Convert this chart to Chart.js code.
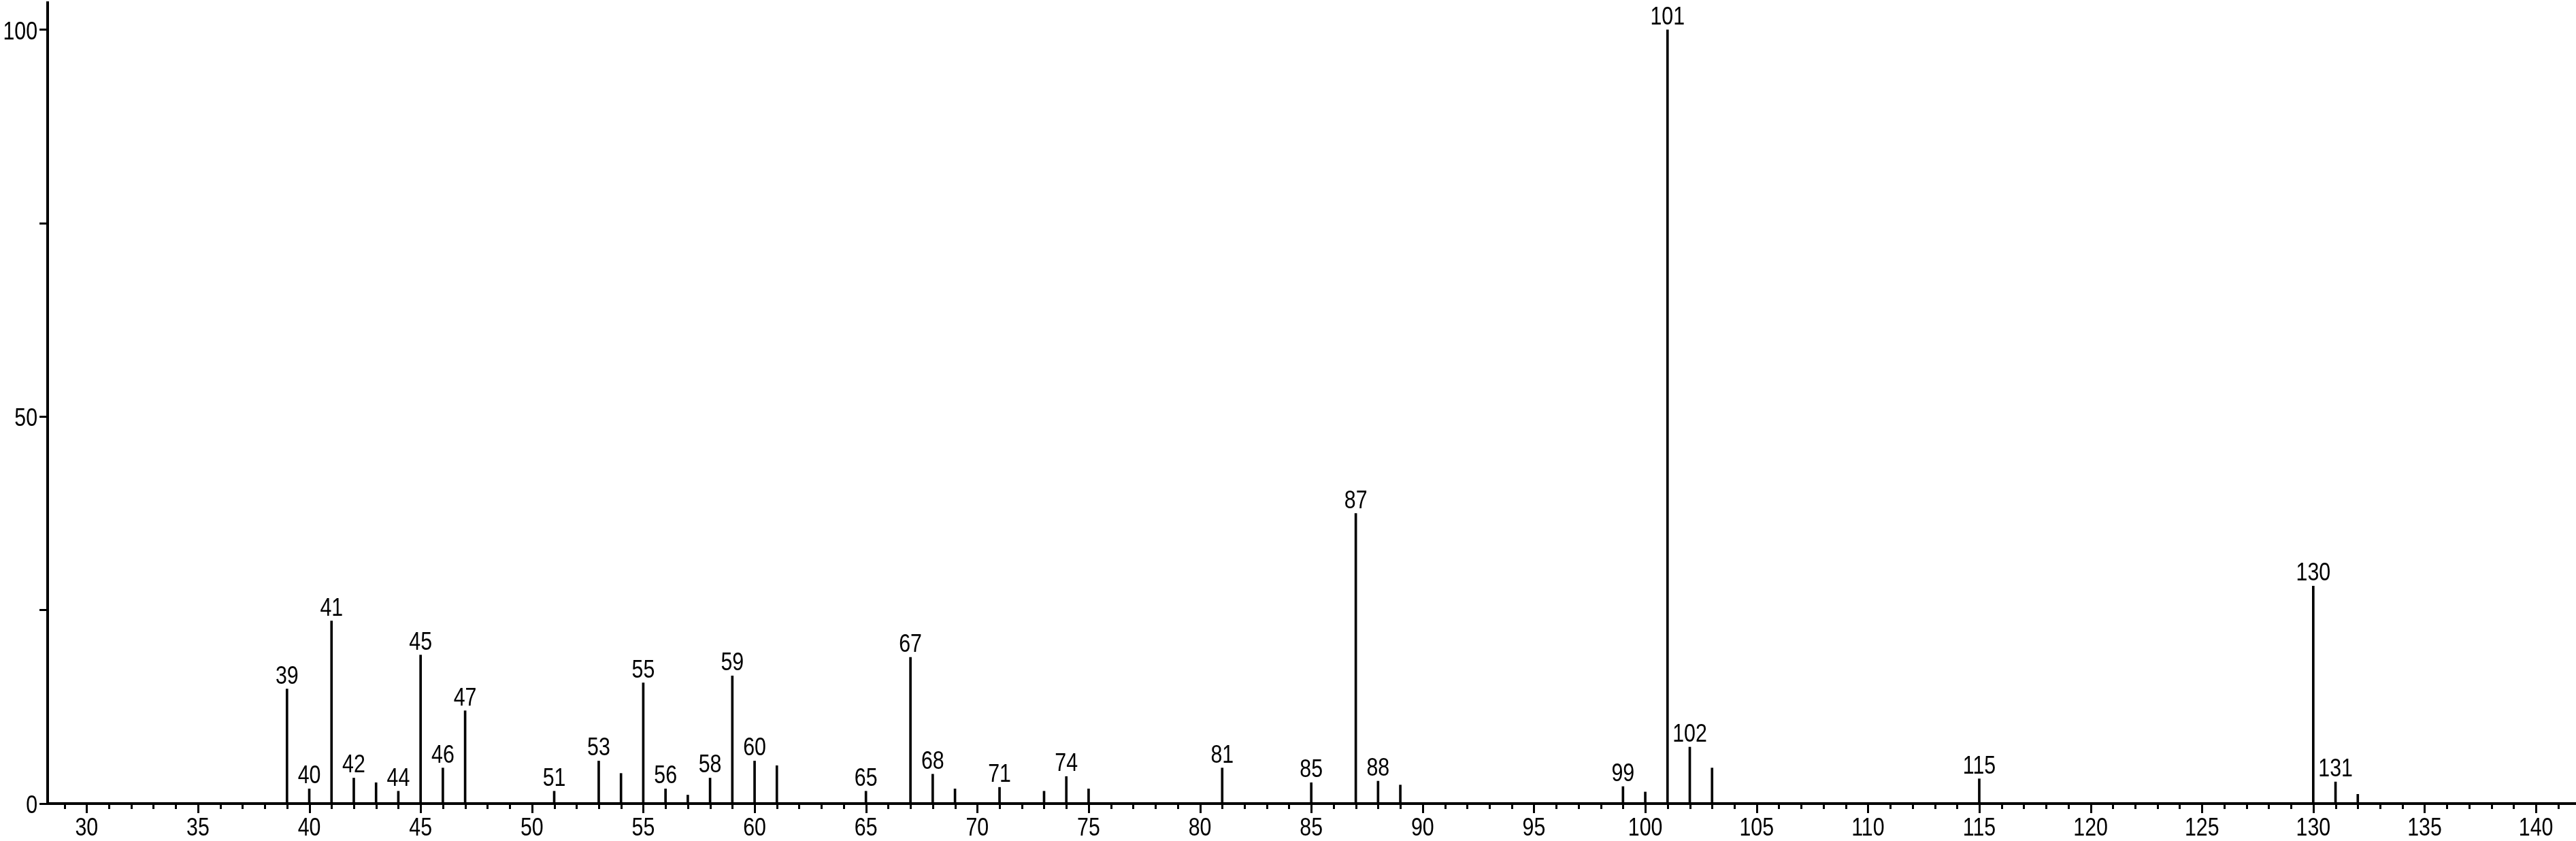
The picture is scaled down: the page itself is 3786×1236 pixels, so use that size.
<!DOCTYPE html>
<html>
<head>
<meta charset="utf-8">
<title>Mass spectrum</title>
<script src="https://cdn.jsdelivr.net/npm/chart.js@4/dist/chart.umd.min.js"></script>
<style>
  html, body { margin: 0; padding: 0; background: #fff; }
  #wrap { width: 3786px; height: 1236px; }
</style>
</head>
<body>
<div id="wrap"><canvas id="spectrum" width="3786" height="1236"></canvas></div>
<script>
// m/z values and relative intensities
const mzValues = [39, 40, 41, 42, 43, 44, 45, 46, 47, 51, 53, 54, 55, 56, 57, 58, 59, 60, 61,
                  65, 67, 68, 69, 71, 73, 74, 75, 81, 85, 87, 88, 89, 99, 100, 101, 102, 103,
                  115, 130, 131, 132];
const intensities = [14.8, 1.9, 23.6, 3.3, 2.7, 1.6, 19.2, 4.6, 12.0, 1.6, 5.5, 3.9, 15.6, 1.9, 1.1, 3.3, 16.5, 5.5, 4.9,
                     1.6, 18.9, 3.8, 1.9, 2.1, 1.6, 3.5, 1.9, 4.6, 2.7, 37.5, 2.9, 2.4, 2.2, 1.5, 100, 7.3, 4.6,
                     3.2, 28.1, 2.8, 1.2];
// peaks that carry a label above them
const labeledPeaks = [39, 40, 41, 42, 44, 45, 46, 47, 51, 53, 55, 56, 58, 59, 60, 65, 67, 68, 71, 74,
                      81, 85, 87, 88, 99, 101, 102, 115, 130, 131];
// axis ticks
const yTickLabels = [0, 50, 100];
const X_MIN = 28.25, X_MAX = 141.8;
const Y_MAX = 103.5;

// narrow Helvetica look: Liberation Sans squeezed horizontally
const FONT = '"Liberation Sans", Arial, sans-serif';
const FONT_SIZE = 37;
const SQUEEZE = 0.82;

function drawNarrowText(ctx, text, x, y, align) {
    ctx.save();
    ctx.translate(x, y);
    ctx.scale(SQUEEZE, 1);
    ctx.textAlign = align;
    ctx.textBaseline = 'alphabetic';
    ctx.fillText(text, 0, 0);
    ctx.restore();
}

// Minor (every 1) and major (every 5) x ticks, plus all axis labels
const axisPlugin = {
    id: 'axisMarks',
    afterDraw(chart) {
        const ctx = chart.ctx;
        const xs = chart.scales.x;
        const ys = chart.scales.y;
        const y0 = chart.chartArea.bottom;
        ctx.save();
        ctx.strokeStyle = '#000';
        ctx.lineWidth = 3;
        for (let v = Math.ceil(X_MIN); v <= Math.floor(X_MAX); v++) {
            const px = Math.round(xs.getPixelForValue(v)) + 0.5;
            const len = v % 5 === 0 ? 14 : 8;
            ctx.beginPath();
            ctx.moveTo(px, y0);
            ctx.lineTo(px, y0 + len);
            ctx.stroke();
        }
        ctx.fillStyle = '#000';
        ctx.font = `${FONT_SIZE}px ${FONT}`;
        xs.ticks.forEach((t) => {
            if (t.value % 5 !== 0) return;
            drawNarrowText(ctx, String(t.value), xs.getPixelForValue(t.value), y0 + 47, 'center');
        });
        ys.ticks.forEach((t) => {
            if (!yTickLabels.includes(t.value)) return;
            drawNarrowText(ctx, String(t.value), chart.chartArea.left - 15, ys.getPixelForValue(t.value) + 14, 'right');
        });
        ctx.restore();
    }
};

// Write the m/z value above the labelled peaks
const peakLabelPlugin = {
    id: 'peakLabels',
    afterDatasetsDraw(chart) {
        const ctx = chart.ctx;
        const meta = chart.getDatasetMeta(0);
        ctx.save();
        ctx.fillStyle = '#000';
        ctx.font = `${FONT_SIZE}px ${FONT}`;
        meta.data.forEach((bar, i) => {
            const mz = mzValues[i];
            if (!labeledPeaks.includes(mz)) return;
            drawNarrowText(ctx, String(mz), bar.x, bar.y - 8, 'center');
        });
        ctx.restore();
    }
};

const ctx = document.getElementById('spectrum').getContext('2d');
const chart = new Chart(ctx, {
    type: 'bar',
    data: {
        datasets: [{
            data: mzValues.map((mz, i) => ({ x: mz, y: intensities[i] })),
            backgroundColor: '#000',
            borderWidth: 0,
            barThickness: 3
        }]
    },
    options: {
        responsive: false,
        devicePixelRatio: 1,
        animation: false,
        layout: { padding: { top: 4, right: 0, bottom: 0, left: 0 } },
        plugins: {
            legend: { display: false },
            tooltip: { enabled: false }
        },
        scales: {
            x: {
                type: 'linear',
                min: X_MIN,
                max: X_MAX,
                offset: false,
                border: { display: true, color: '#000', width: 4 },
                grid: { display: true, drawOnChartArea: false, drawTicks: false },
                ticks: {
                    display: false,
                    stepSize: 1,
                    includeBounds: false,
                    autoSkip: false
                },
                afterFit(scale) { scale.height = 55; }
            },
            y: {
                min: 0,
                max: Y_MAX,
                border: { display: true, color: '#000', width: 4 },
                grid: {
                    display: true,
                    drawOnChartArea: false,
                    drawTicks: true,
                    tickLength: 12,
                    tickWidth: 3,
                    tickColor: '#000'
                },
                ticks: {
                    display: false,
                    stepSize: 25,
                    includeBounds: false,
                    autoSkip: false
                },
                afterFit(scale) { scale.width = 70; }
            }
        }
    },
    plugins: [axisPlugin, peakLabelPlugin]
});
</script>
</body>
</html>
